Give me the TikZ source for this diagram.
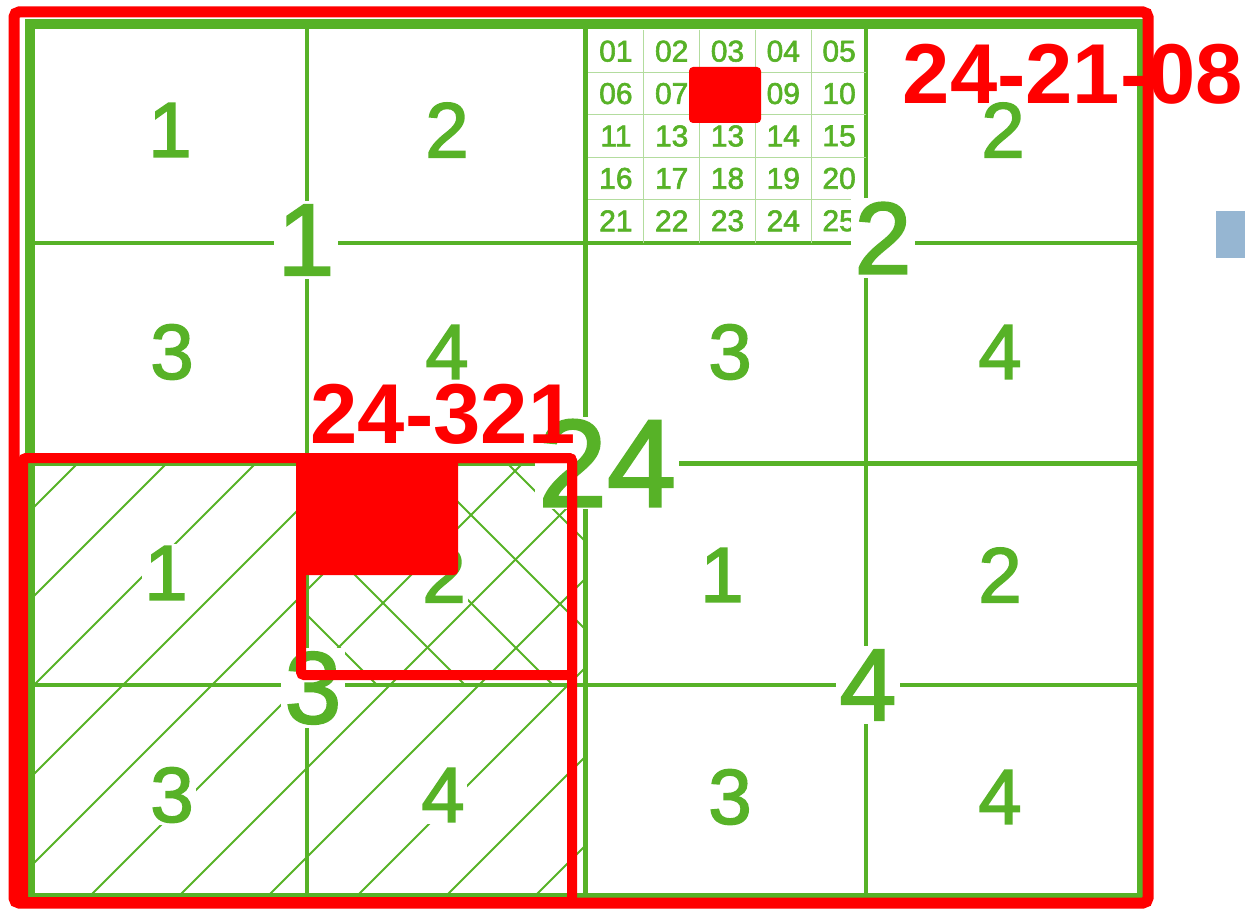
\documentclass[tikz,border=0pt]{standalone}
\usepackage{fontspec}
\setmainfont{Liberation Sans}
\newfontfamily\mapfont[FakeBold=2]{Liberation Sans}
\usetikzlibrary{positioning}
\definecolor{mapgreen}{RGB}{87,178,39}
\definecolor{markred}{RGB}{255,0,0}
\definecolor{tabblue}{RGB}{150,182,210}

\begin{document}
\begin{tikzpicture}[
    x=1pt, y=-1pt,
    frame/.style={draw=mapgreen, line width=10pt},
    mainline/.style={draw=mapgreen, line width=5pt},
    subline/.style={draw=mapgreen, line width=3.5pt},
    fineline/.style={draw=mapgreen!45, line width=1.2pt},
    hatch/.style={draw=mapgreen, line width=1.8pt},
    cellno/.style={text=mapgreen, font=\mapfont\fontsize{78}{78}\selectfont, fill=white, inner sep=2pt},
    bigno/.style={text=mapgreen, font=\mapfont\fontsize{102}{102}\selectfont, fill=white, inner sep=4pt},
    fineno/.style={text=mapgreen, font=\mapfont\fontsize{30}{30}\selectfont, inner sep=0pt},
    redbox/.style={draw=markred, line width=10pt, rounded corners=3pt},
    redfill/.style={fill=markred, rounded corners=4pt},
    redlbl/.style={text=markred, font=\fontsize{85}{85}\selectfont\bfseries, inner sep=0pt}
]
\useasboundingbox (0,0) rectangle (1245,909);

% Sheet frame and grid
\draw[frame] (30,24) rectangle (1142,898);
\draw[mainline] (585,24) -- (585,898);
\draw[mainline] (30,463) -- (1142,463);
\draw[subline] (307,24) -- (307,898);
\draw[subline] (866,24) -- (866,898);
\draw[subline] (30,243) -- (1142,243);
\draw[subline] (30,685) -- (1142,685);

% Fine 5x5 grid
\foreach \i in {1,...,4} {
  \draw[fineline] ({588+55.8*\i},30) -- ({588+55.8*\i},243);
  \draw[fineline] (588,{30+42.4*\i}) -- (866,{30+42.4*\i});
}
\foreach \t [count=\n from 0] in {01,02,03,04,05,06,07,08,09,10,11,13,13,14,15,16,17,18,19,20,21,22,23,24,25} {
  \pgfmathtruncatemacro\col{mod(\n,5)}
  \pgfmathtruncatemacro\row{(\n-\col)/5}
  \node[fineno] (f\n) at ({588+55.8*(\col+0.5)},{30+42.4*(\row+0.5)}) {\t};
}

% Hatching of sheet 3
\begin{scope}
  \clip (35,463) rectangle (585,898);
  \foreach \c in {541,630,...,1500}
    \draw[hatch] ({\c-898},898) -- ({\c-463},463);
\end{scope}
\begin{scope}
  \clip (307,463) rectangle (585,685);
  \foreach \d in {-396,-308,...,60}
    \draw[hatch] ({463+\d},463) -- ({685+\d},685);
\end{scope}

% Cell numbers
\node[cellno] (q1a) at (170,130) {1};
\node[cellno] (q1b) at (447,130) {2};
\node[cellno] (q1c) at (172,352) {3};
\node[cellno] (q1d) at (447,352) {4};
\node[cellno] (q2b) at (1003,130) {2};
\node[cellno] (q2c) at (730,352) {3};
\node[cellno] (q2d) at (1000,352) {4};
\node[cellno] (q3a) at (166,573) {1};
\node[cellno] (q3b) at (444,575) {2};
\node[cellno] (q3c) at (172,795) {3};
\node[cellno] (q3d) at (443,795) {4};
\node[cellno] (q4a) at (722,575) {1};
\node[cellno] (q4b) at (1000,575) {2};
\node[cellno] (q4c) at (730,797) {3};
\node[cellno] (q4d) at (1000,797) {4};

% Sheet numbers
\node[bigno] (s1) at (306,240) {1};
\node[bigno] (s2) at (883,238) {2};
\node[bigno] (s3) at (313,688) {3};
\node[bigno] (s4) at (868,685) {4};
\node[bigno, font=\mapfont\fontsize{124}{124}\selectfont, inner sep=3pt] (s24) at (607,463) {24};

% Red marks
\draw[redbox, rounded corners=5pt, line width=11pt] (14,12) rectangle (1148,903);
\draw[redbox] (23,458) rectangle (572,902);
\draw[redbox] (301,458) rectangle (572,675);
\fill[redfill] (297,453) rectangle (458,575);
\fill[redfill] (689,67) rectangle (761,123);
\node[redlbl] (code1) at (1073,74) {24-21-08};
\node[redlbl] (code2) at (443,414) {24-321};

% Side tab
\fill[tabblue] (1216,211) rectangle (1245,258);

\end{tikzpicture}
\end{document}
